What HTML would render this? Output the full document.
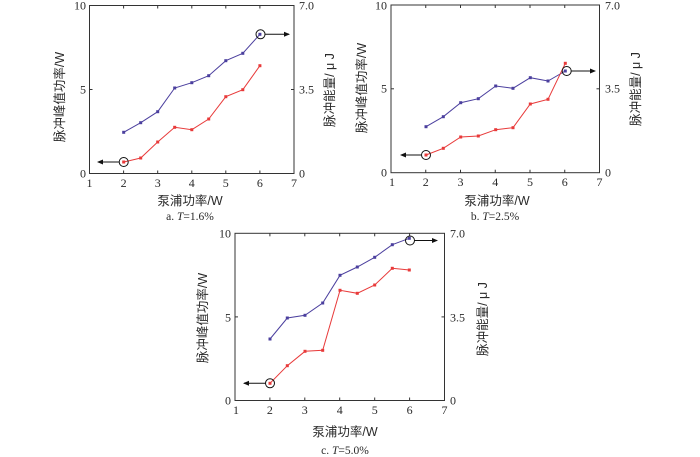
<!DOCTYPE html>
<html><head><meta charset="utf-8"><style>
html,body{margin:0;padding:0;background:#fff;}
svg{display:block;}
.tk{font-family:"Liberation Serif",serif;font-size:12px;fill:#2a2a2a;}
.cj{font-family:"Liberation Sans","Noto Sans CJK SC",sans-serif;font-size:12.5px;fill:#2a2a2a;}
.cap{font-family:"Liberation Serif","Noto Serif CJK SC",serif;font-size:11.5px;fill:#2a2a2a;}
</style></head><body>
<svg width="700" height="457" viewBox="0 0 700 457" xmlns="http://www.w3.org/2000/svg">
<defs>
<marker id="ah" markerWidth="6" markerHeight="6" refX="5" refY="3" orient="auto" markerUnits="userSpaceOnUse">
<path d="M0,0.5 L6,3 L0,5.5 Z" fill="#111"/></marker>
</defs>

<!-- ===== Chart a ===== -->
<g>
<rect x="89.5" y="5.5" width="204.5" height="168" fill="none" stroke="#333" stroke-width="1"/>
<g stroke="#333" stroke-width="1">
<line x1="123.6" y1="173.5" x2="123.6" y2="170.5"/><line x1="157.7" y1="173.5" x2="157.7" y2="170.5"/><line x1="191.8" y1="173.5" x2="191.8" y2="170.5"/><line x1="225.8" y1="173.5" x2="225.8" y2="170.5"/><line x1="259.9" y1="173.5" x2="259.9" y2="170.5"/>
<line x1="123.6" y1="5.5" x2="123.6" y2="8.5"/><line x1="157.7" y1="5.5" x2="157.7" y2="8.5"/><line x1="191.8" y1="5.5" x2="191.8" y2="8.5"/><line x1="225.8" y1="5.5" x2="225.8" y2="8.5"/><line x1="259.9" y1="5.5" x2="259.9" y2="8.5"/>
<line x1="89.5" y1="89.5" x2="92.5" y2="89.5"/><line x1="294" y1="89.5" x2="291" y2="89.5"/>
</g>
<g class="tk" text-anchor="end"><text x="86" y="9.5">10</text><text x="86" y="93.5">5</text><text x="86" y="177.5">0</text></g>
<g class="tk"><text x="299" y="9.5">7.0</text><text x="299" y="93.5">3.5</text><text x="299" y="177.5">0</text></g>
<g class="tk" text-anchor="middle"><text x="89.5" y="187">1</text><text x="123.6" y="187">2</text><text x="157.7" y="187">3</text><text x="191.8" y="187">4</text><text x="225.8" y="187">5</text><text x="259.9" y="187">6</text><text x="294" y="187">7</text></g>
<text class="cj" x="190" y="205" text-anchor="middle">泵浦功率/W</text>
<text class="cap" x="190" y="220" text-anchor="middle">a.  <tspan font-style="italic">T</tspan>=1.6%</text>
<text class="cj" transform="translate(64,97) rotate(-90)" text-anchor="middle">脉冲峰值功率/W</text>
<text class="cj" transform="translate(334,90) rotate(-90)" text-anchor="middle">脉冲能量/ μ J</text>
<polyline fill="none" stroke="#4b3f9e" stroke-width="1" points="123.7,132.3 140.7,122.7 157.7,111.7 174.7,88 191.8,82.7 208.7,75.7 225.8,60.7 242.8,53.3 259.9,34.3"/>
<g fill="#4b3f9e"><rect x="122.2" y="130.8" width="3" height="3"/><rect x="139.2" y="121.2" width="3" height="3"/><rect x="156.2" y="110.2" width="3" height="3"/><rect x="173.2" y="86.5" width="3" height="3"/><rect x="190.3" y="81.2" width="3" height="3"/><rect x="207.2" y="74.2" width="3" height="3"/><rect x="224.3" y="59.2" width="3" height="3"/><rect x="241.3" y="51.8" width="3" height="3"/><rect x="258.4" y="32.8" width="3" height="3"/></g>
<polyline fill="none" stroke="#e83a3a" stroke-width="1" points="123.7,162 140.7,158 157.7,142 174.7,127.3 191.8,129.7 208.7,119 225.8,96.7 242.8,89.7 259.9,65.7"/>
<g fill="#e83a3a"><rect x="122.2" y="160.5" width="3" height="3"/><rect x="139.2" y="156.5" width="3" height="3"/><rect x="156.2" y="140.5" width="3" height="3"/><rect x="173.2" y="125.8" width="3" height="3"/><rect x="190.3" y="128.2" width="3" height="3"/><rect x="207.2" y="117.5" width="3" height="3"/><rect x="224.3" y="95.2" width="3" height="3"/><rect x="241.3" y="88.2" width="3" height="3"/><rect x="258.4" y="64.2" width="3" height="3"/></g>
<circle cx="123.7" cy="162" r="4.5" fill="none" stroke="#111" stroke-width="1"/>
<line x1="119" y1="162" x2="98" y2="162" stroke="#111" stroke-width="1" marker-end="url(#ah)"/>
<circle cx="260.5" cy="34.3" r="4.5" fill="none" stroke="#111" stroke-width="1"/>
<line x1="265" y1="34.3" x2="289" y2="34.3" stroke="#111" stroke-width="1" marker-end="url(#ah)"/>
</g>

<!-- ===== Chart b ===== -->
<g>
<rect x="391" y="5" width="208.5" height="167.7" fill="none" stroke="#333" stroke-width="1"/>
<g stroke="#333" stroke-width="1">
<line x1="425.75" y1="172.7" x2="425.75" y2="169.7"/><line x1="460.5" y1="172.7" x2="460.5" y2="169.7"/><line x1="495.25" y1="172.7" x2="495.25" y2="169.7"/><line x1="530" y1="172.7" x2="530" y2="169.7"/><line x1="564.75" y1="172.7" x2="564.75" y2="169.7"/>
<line x1="425.75" y1="5" x2="425.75" y2="8"/><line x1="460.5" y1="5" x2="460.5" y2="8"/><line x1="495.25" y1="5" x2="495.25" y2="8"/><line x1="530" y1="5" x2="530" y2="8"/><line x1="564.75" y1="5" x2="564.75" y2="8"/>
<line x1="391" y1="88.8" x2="394" y2="88.8"/><line x1="599.5" y1="88.8" x2="596.5" y2="88.8"/>
</g>
<g class="tk" text-anchor="end"><text x="387" y="9.5">10</text><text x="387" y="92.5">5</text><text x="387" y="176.5">0</text></g>
<g class="tk"><text x="605" y="9.5">7.0</text><text x="605" y="92.5">3.5</text><text x="605" y="176.5">0</text></g>
<g class="tk" text-anchor="middle"><text x="392" y="186">1</text><text x="425.75" y="186">2</text><text x="460.5" y="186">3</text><text x="495.25" y="186">4</text><text x="530" y="186">5</text><text x="564.75" y="186">6</text><text x="599.5" y="186">7</text></g>
<text class="cj" x="497" y="205" text-anchor="middle">泵浦功率/W</text>
<text class="cap" x="495" y="220" text-anchor="middle">b.  <tspan font-style="italic">T</tspan>=2.5%</text>
<text class="cj" transform="translate(366,88) rotate(-90)" text-anchor="middle">脉冲峰值功率/W</text>
<text class="cj" transform="translate(640,89) rotate(-90)" text-anchor="middle">脉冲能量/ μ J</text>
<polyline fill="none" stroke="#4b3f9e" stroke-width="1" points="426,126.7 443.3,116.7 460.7,102.7 478.3,98.7 495.7,86 513,88.3 530.3,77.7 548,81 565.3,71"/>
<g fill="#4b3f9e"><rect x="424.5" y="125.2" width="3" height="3"/><rect x="441.8" y="115.2" width="3" height="3"/><rect x="459.2" y="101.2" width="3" height="3"/><rect x="476.8" y="97.2" width="3" height="3"/><rect x="494.2" y="84.5" width="3" height="3"/><rect x="511.5" y="86.8" width="3" height="3"/><rect x="528.8" y="76.2" width="3" height="3"/><rect x="546.5" y="79.5" width="3" height="3"/><rect x="563.8" y="69.5" width="3" height="3"/></g>
<polyline fill="none" stroke="#e83a3a" stroke-width="1" points="426,155 443.3,148.3 460.7,137 478.3,136 495.7,129.7 513,127.7 530.3,104 548,99.3 565.3,63.3"/>
<g fill="#e83a3a"><rect x="424.5" y="153.5" width="3" height="3"/><rect x="441.8" y="146.8" width="3" height="3"/><rect x="459.2" y="135.5" width="3" height="3"/><rect x="476.8" y="134.5" width="3" height="3"/><rect x="494.2" y="128.2" width="3" height="3"/><rect x="511.5" y="126.2" width="3" height="3"/><rect x="528.8" y="102.5" width="3" height="3"/><rect x="546.5" y="97.8" width="3" height="3"/><rect x="563.8" y="61.8" width="3" height="3"/></g>
<circle cx="426" cy="155" r="4.5" fill="none" stroke="#111" stroke-width="1"/>
<line x1="421.5" y1="155" x2="401" y2="155" stroke="#111" stroke-width="1" marker-end="url(#ah)"/>
<circle cx="566.7" cy="71" r="4.5" fill="none" stroke="#111" stroke-width="1"/>
<line x1="571.2" y1="71" x2="595" y2="71" stroke="#111" stroke-width="1" marker-end="url(#ah)"/>
</g>

<!-- ===== Chart c ===== -->
<g>
<rect x="235" y="233.3" width="209.5" height="167.2" fill="none" stroke="#333" stroke-width="1"/>
<g stroke="#333" stroke-width="1">
<line x1="269.9" y1="400.5" x2="269.9" y2="397.5"/><line x1="304.8" y1="400.5" x2="304.8" y2="397.5"/><line x1="339.7" y1="400.5" x2="339.7" y2="397.5"/><line x1="374.7" y1="400.5" x2="374.7" y2="397.5"/><line x1="409.6" y1="400.5" x2="409.6" y2="397.5"/>
<line x1="269.9" y1="233.3" x2="269.9" y2="236.3"/><line x1="304.8" y1="233.3" x2="304.8" y2="236.3"/><line x1="339.7" y1="233.3" x2="339.7" y2="236.3"/><line x1="374.7" y1="233.3" x2="374.7" y2="236.3"/><line x1="409.6" y1="233.3" x2="409.6" y2="236.3"/>
<line x1="235" y1="316.9" x2="238" y2="316.9"/><line x1="444.5" y1="316.9" x2="441.5" y2="316.9"/>
</g>
<g class="tk" text-anchor="end"><text x="231" y="237.5">10</text><text x="231" y="321.5">5</text><text x="231" y="404.5">0</text></g>
<g class="tk"><text x="450" y="237.5">7.0</text><text x="450" y="321.5">3.5</text><text x="450" y="404.5">0</text></g>
<g class="tk" text-anchor="middle"><text x="236" y="414">1</text><text x="269.9" y="414">2</text><text x="304.8" y="414">3</text><text x="339.7" y="414">4</text><text x="374.7" y="414">5</text><text x="409.6" y="414">6</text><text x="444.5" y="414">7</text></g>
<text class="cj" x="345" y="436" text-anchor="middle">泵浦功率/W</text>
<text class="cap" x="345" y="454" text-anchor="middle">c.  <tspan font-style="italic">T</tspan>=5.0%</text>
<text class="cj" transform="translate(207,318) rotate(-90)" text-anchor="middle">脉冲峰值功率/W</text>
<text class="cj" transform="translate(487,319) rotate(-90)" text-anchor="middle">脉冲能量/ μ J</text>
<polyline fill="none" stroke="#4b3f9e" stroke-width="1" points="270,339 287.3,318 305,315.3 322.7,303 340,275.3 357.3,267 374.7,257.3 392.3,244.7 409.3,238.3"/>
<g fill="#4b3f9e"><rect x="268.5" y="337.5" width="3" height="3"/><rect x="285.8" y="316.5" width="3" height="3"/><rect x="303.5" y="313.8" width="3" height="3"/><rect x="321.2" y="301.5" width="3" height="3"/><rect x="338.5" y="273.8" width="3" height="3"/><rect x="355.8" y="265.5" width="3" height="3"/><rect x="373.2" y="255.8" width="3" height="3"/><rect x="390.8" y="243.2" width="3" height="3"/><rect x="407.8" y="236.8" width="3" height="3"/></g>
<polyline fill="none" stroke="#e83a3a" stroke-width="1" points="270,383.3 287.3,365.7 305,351.3 322.7,350.3 340,290.3 357.3,293.3 374.7,285 392.3,268.3 409.3,270"/>
<g fill="#e83a3a"><rect x="268.5" y="381.8" width="3" height="3"/><rect x="285.8" y="364.2" width="3" height="3"/><rect x="303.5" y="349.8" width="3" height="3"/><rect x="321.2" y="348.8" width="3" height="3"/><rect x="338.5" y="288.8" width="3" height="3"/><rect x="355.8" y="291.8" width="3" height="3"/><rect x="373.2" y="283.5" width="3" height="3"/><rect x="390.8" y="266.8" width="3" height="3"/><rect x="407.8" y="268.5" width="3" height="3"/></g>
<circle cx="270" cy="383.3" r="4.5" fill="none" stroke="#111" stroke-width="1"/>
<line x1="265.5" y1="383.3" x2="244" y2="383.3" stroke="#111" stroke-width="1" marker-end="url(#ah)"/>
<circle cx="410" cy="240.5" r="4.5" fill="none" stroke="#111" stroke-width="1"/>
<line x1="414.5" y1="240.5" x2="437" y2="240.5" stroke="#111" stroke-width="1" marker-end="url(#ah)"/>
</g>
</svg>
</body></html>
